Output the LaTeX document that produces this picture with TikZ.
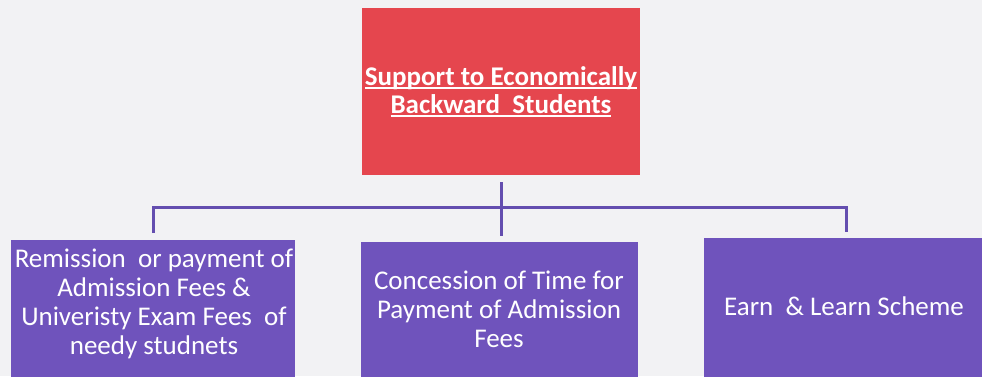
\documentclass[tikz,border=0pt]{standalone}
\usepackage{fontspec}
\setmainfont{Carlito}
\definecolor{bgc}{RGB}{242,242,244}
\definecolor{redbox}{RGB}{229,70,78}
\definecolor{purplebox}{RGB}{111,83,188}
\definecolor{linec}{RGB}{100,78,175}
\newcommand\myul[1]{{\setbox0\hbox{#1}\rlap{\rule[-3.5pt]{\wd0}{1.8pt}}\box0}}
\begin{document}
\begin{tikzpicture}[x=1pt,y=-1pt,
  boxst/.style={inner sep=0pt,outer sep=0pt,draw=none},
  redst/.style={boxst,fill=redbox},
  purplest/.style={boxst,fill=purplebox},
  txtst/.style={text=white,align=center,inner sep=0pt,font=\fontsize{27}{29}\selectfont},
  conn/.style={draw=linec,line width=3pt}]
\useasboundingbox (0,0) rectangle (982,376);
\fill[bgc] (0,0) rectangle (982,376);
\begin{scope}
\clip (0,0) rectangle (982,376);
\node[redst,minimum width=278pt,minimum height=167pt,text=white,align=center,
  font=\bfseries\fontsize{27}{28}\selectfont] (top) at (501,91.5)
  {\myul{Support to Economically}\\\myul{Backward~ Students}};
\node[purplest,minimum width=284pt,minimum height=160pt] (b1) at (153,320) {};
\node[purplest,minimum width=277pt,minimum height=160pt] (b2) at (499,322) {};
\node[purplest,minimum width=280pt,minimum height=160pt] (b3) at (844,318) {};
\node[txtst] (t1) at (154,304) {Remission~ or payment of\\Admission Fees \&\\Univeristy Exam Fees~ of\\needy studnets};
\node[txtst] (t2) at (499,309) {Concession of Time for\\Payment of Admission\\Fees};
\node[txtst] (t3) at (844,306) {Earn~ \& Learn Scheme};
\end{scope}
\coordinate (c0) at (501,182);
\coordinate (c1) at (501,236);
\coordinate (hb) at (501,207);
\coordinate (dl) at (153,233);
\coordinate (dr) at (846,232);
\draw[conn] (c0) -- (c1);
\draw[conn] (dl) -- (dl |- hb) -- (dr |- hb) -- (dr);
\end{tikzpicture}
\end{document}
